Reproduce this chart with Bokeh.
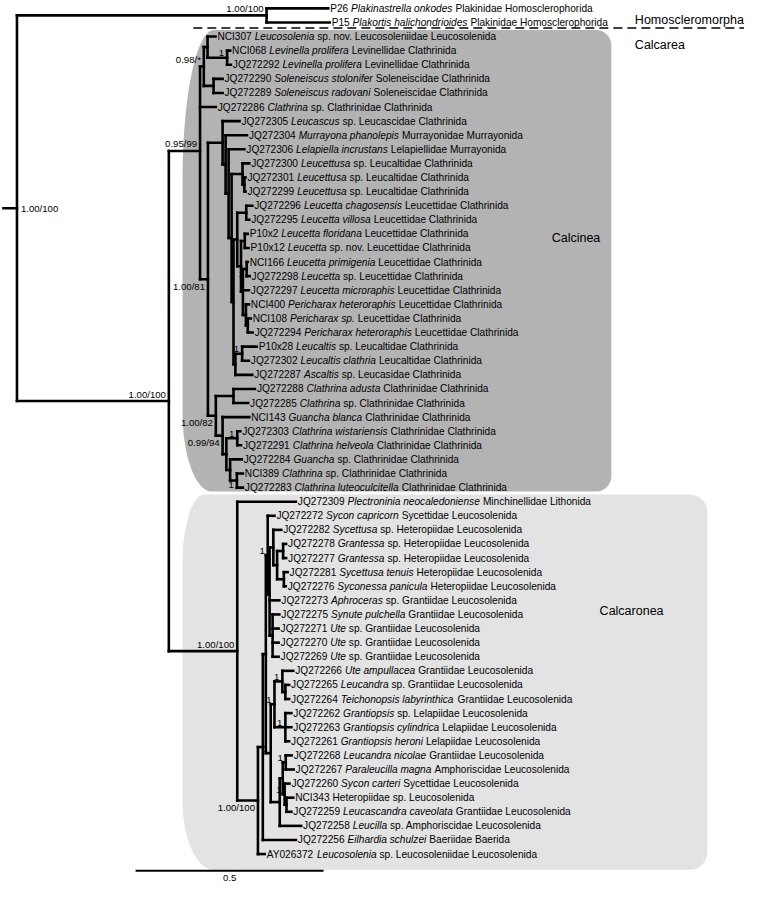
import math
from bokeh.plotting import figure
from bokeh.models import Range1d
from bokeh.embed import file_html
from bokeh.resources import INLINE
from bokeh.core.properties import value

# ---------------- data ----------------
NEWICK = (
    "((P26:0.164,P15:0.168)Homo:0.664,"
    "((((NCI307:0.021,(NCI068:0.008,JQ272292:0.010)G:0.052)D1:0.010,"
    "(JQ272290:0.024,JQ272289:0.024)F:0.026)D:0.010,"
    "JQ272286:0.042,"
    "((JQ272305:0.045,(JQ272304:0.057,(JQ272306:0.042,"
    "((JQ272300:0.018,(JQ272301:0.003,JQ272299:0.003)H4b:0.005)H4:0.029,"
    "(((JQ272296:0.016,JQ272295:0.008)H6a:0.024,"
    "((P10x2:0.008,P10x12:0.010)H8a:0.010,"
    "((NCI166:0.003,JQ272298:0.008)H8c:0.010,JQ272297:0.016,"
    "(NCI400:0.008,(NCI108:0.008,JQ272294:0.013)H8e:0.005)H8d:0.008)H8b:0.005)H8:0.010)H6:0.010,"
    "((P10x28:0.039,JQ272302:0.018)H7a:0.018,JQ272287:0.045)H7:0.005)H5:0.005)H3:0.008)H2:0.008)H1:0.008)H:0.039,"
    "((JQ272288:0.057,JQ272285:0.039)K1:0.047,"
    "(NCI143:0.071,((JQ272303:0.008,JQ272291:0.010)K4:0.029,"
    "(JQ272284:0.031,(NCI389:0.016,JQ272283:0.016)K6:0.018)K5:0.010)K3:0.010)K2:0.018)K:0.021)E:0.021)Cn:0.083,"
    "(JQ272309:0.156,"
    "((((JQ272272:0.018,((JQ272282:0.021,((JQ272278:0.008,JQ272277:0.008)P4a:0.016,"
    "(JQ272281:0.010,JQ272276:0.005)P4b:0.018)P4:0.010)P2:0.010,JQ272273:0.026,"
    "(JQ272275:0.018,JQ272271:0.016,JQ272270:0.016,JQ272269:0.016)P3:0.008)P1:0.005)P:0.005,"
    "(((JQ272266:0.029,(JQ272265:0.010,JQ272264:0.010)Q1c:0.008)Q1a:0.021,"
    "(JQ272262:0.016,JQ272263:0.016,JQ272261:0.010)Q1b:0.029)Q1:0.010,"
    "(((JQ272268:0.016,JQ272267:0.021)A:0.008,"
    "(JQ272260:0.013,(NCI343:0.018,JQ272259:0.013)B2:0.005)B:0.005)Q2:0.008,"
    "JQ272258:0.057)Q2p:0.024)Q:0.013)N:0.008,JQ272256:0.088)M:0.013,"
    "AY026372:0.018)L:0.055)Cr:0.182)Calcarea:0.404)R1:0.036;"
)

LEAF_ID = ["P26", "P15", "NCI307", "NCI068", "JQ272292", "JQ272290", "JQ272289", "JQ272286",
           "JQ272305", "JQ272304", "JQ272306", "JQ272300", "JQ272301", "JQ272299", "JQ272296",
           "JQ272295", "P10x2", "P10x12", "NCI166", "JQ272298", "JQ272297", "NCI400", "NCI108",
           "JQ272294", "P10x28", "JQ272302", "JQ272287", "JQ272288", "JQ272285", "NCI143",
           "JQ272303", "JQ272291", "JQ272284", "NCI389", "JQ272283", "JQ272309", "JQ272272",
           "JQ272282", "JQ272278", "JQ272277", "JQ272281", "JQ272276", "JQ272273", "JQ272275",
           "JQ272271", "JQ272270", "JQ272269", "JQ272266", "JQ272265", "JQ272264", "JQ272262",
           "JQ272263", "JQ272261", "JQ272268", "JQ272267", "JQ272260", "NCI343", "JQ272259",
           "JQ272258", "JQ272256", "AY026372"]
LEAF_TAXON = ["Plakinastrella onkodes", "Plakortis halichondrioides", "Leucosolenia",
              "Levinella prolifera", "Levinella prolifera", "Soleneiscus stolonifer",
              "Soleneiscus radovani", "Clathrina", "Leucascus", "Murrayona phanolepis",
              "Lelapiella incrustans", "Leucettusa", "Leucettusa", "Leucettusa",
              "Leucetta chagosensis", "Leucetta villosa", "Leucetta floridana", "Leucetta",
              "Leucetta primigenia", "Leucetta", "Leucetta microraphis", "Pericharax heteroraphis",
              "Pericharax sp.", "Pericharax heteroraphis", "Leucaltis", "Leucaltis clathria",
              "Ascaltis", "Clathrina adusta", "Clathrina", "Guancha blanca",
              "Clathrina wistariensis", "Clathrina helveola", "Guancha", "Clathrina",
              "Clathrina luteoculcitella", "Plectroninia neocaledoniense", "Sycon capricorn",
              "Sycettusa", "Grantessa", "Grantessa", "Sycettusa tenuis", "Syconessa panicula",
              "Aphroceras", "Synute pulchella", "Ute", "Ute", "Ute", "Ute ampullacea",
              "Leucandra", "Teichonopsis labyrinthica", "Grantiopsis", "Grantiopsis cylindrica",
              "Grantiopsis heroni", "Leucandra nicolae", "Paraleucilla magna", "Sycon carteri",
              "", "Leucascandra caveolata", "Leucilla", "Eilhardia schulzei", "Leucosolenia"]
LEAF_REST = ["Plakinidae Homosclerophorida", "Plakinidae Homosclerophorida",
             "sp. nov. Leucosoleniidae Leucosolenida", "Levinellidae Clathrinida",
             "Levinellidae Clathrinida", "Soleneiscidae Clathrinida", "Soleneiscidae Clathrinida",
             "sp. Clathrinidae Clathrinida", "sp. Leucascidae Clathrinida",
             "Murrayonidae Murrayonida", "Lelapiellidae Murrayonida",
             "sp. Leucaltidae Clathrinida", "sp. Leucaltidae Clathrinida",
             "sp. Leucaltidae Clathrinida", "Leucettidae Clathrinida", "Leucettidae Clathrinida",
             "Leucettidae Clathrinida", "sp. nov. Leucettidae Clathrinida",
             "Leucettidae Clathrinida", "sp. Leucettidae Clathrinida", "Leucettidae Clathrinida",
             "Leucettidae Clathrinida", "Leucettidae Clathrinida", "Leucettidae Clathrinida",
             "sp. Leucaltidae Clathrinida", "Leucaltidae Clathrinida",
             "sp. Leucasidae Clathrinida", "Clathrinidae Clathrinida",
             "sp. Clathrinidae Clathrinida", "Clathrinidae Clathrinida",
             "Clathrinidae Clathrinida", "Clathrinidae Clathrinida",
             "sp. Clathrinidae Clathrinida", "sp. Clathrinidae Clathrinida",
             "Clathrinidae Clathrinida", "Minchinellidae Lithonida", "Sycettidae Leucosolenida",
             "sp. Heteropiidae Leucosolenida", "sp. Heteropiidae Leucosolenida",
             "sp. Heteropiidae Leucosolenida", "Heteropiidae Leucosolenida",
             "Heteropiidae Leucosolenida", "sp. Grantiidae Leucosolenida",
             "Grantiidae Leucosolenida", "sp. Grantiidae Leucosolenida",
             "sp. Grantiidae Leucosolenida", "sp. Grantiidae Leucosolenida",
             "Grantiidae Leucosolenida", "sp. Grantiidae Leucosolenida",
             "Grantiidae Leucosolenida", "sp. Lelapiidae Leucosolenida",
             "Lelapiidae Leucosolenida", "Lelapiidae Leucosolenida", "Grantiidae Leucosolenida",
             "Amphoriscidae Leucosolenida", "Sycettidae Leucosolenida",
             "Heteropiidae sp. Leucosolenida", "Grantiidae Leucosolenida",
             "sp. Amphoriscidae Leucosolenida", "Baeriidae Baerida",
             "sp. Leucosoleniidae Leucosolenida"]

SUPPORT_NODE = ["R1", "Homo", "Calcarea", "Cn", "D", "G", "E", "H8c", "H7a", "K", "K2", "K4",
                "K6", "Cr", "L", "P", "Q1a", "Q1", "Q1b", "Q", "A", "B"]
SUPPORT_TEXT = ["1.00/100", "1.00/100", "1.00/100", "0.95/99", "0.98/*", "1", "1.00/81", "1",
                "1", "1.00/82", "0.99/94", "1", "1", "1.00/100", "1.00/100", "1", "1", "1", "1",
                "1", "1", "1"]
SUPPORT_SIDE = ["right", "above", "above", "above", "above", "above", "below", "below", "above",
                "below", "below", "above", "below", "above", "below", "above", "above", "above",
                "above", "above", "above", "above"]

CLADE_NAME = ["Homoscleromorpha", "Calcarea", "Calcinea", "Calcaronea"]
SCALE_BAR_LEN = 0.5

# ---------------- geometry helpers ----------------
REF_W, REF_H = 760, 901
PX0, PPU = 3.0, 384.0        # reference pixel of depth 0, pixels per substitution unit
ROW0, ROW = 8.0, 14.35       # reference pixel of first leaf row, row spacing
FIG_W, FIG_H = 744, 885
K = REF_W / FIG_W            # reference px per screen px


def dxp(px):
    return (px - PX0) / PPU


def dyp(py):
    return (py - ROW0) / ROW


def parse_newick(s):
    pos = 0

    def node():
        nonlocal pos
        n = {"children": [], "name": "", "len": 0.0}
        if s[pos] == "(":
            pos += 1
            while True:
                n["children"].append(node())
                if s[pos] == ",":
                    pos += 1
                    continue
                if s[pos] == ")":
                    pos += 1
                    break
        st = pos
        while pos < len(s) and s[pos] not in ",():;":
            pos += 1
        n["name"] = s[st:pos]
        if pos < len(s) and s[pos] == ":":
            pos += 1
            st = pos
            while pos < len(s) and s[pos] not in ",();":
                pos += 1
            n["len"] = float(s[st:pos])
        return n
    return node()


tree = parse_newick(NEWICK)
leaves = []
nodes = {}


def layout(n, depth):
    n["x"] = depth + n["len"]
    nodes[n["name"]] = n
    if not n["children"]:
        n["y"] = float(len(leaves))
        leaves.append(n)
    else:
        for c in n["children"]:
            layout(c, n["x"])
        n["y"] = sum(c["y"] for c in n["children"]) / len(n["children"])


layout(tree, 0.0)

x0s, y0s, x1s, y1s = [0.0], [tree["y"]], [tree["x"]], [tree["y"]]


def collect(n):
    if n["children"]:
        x0s.append(n["x"]); y0s.append(n["children"][0]["y"])
        x1s.append(n["x"]); y1s.append(n["children"][-1]["y"])
        for c in n["children"]:
            x0s.append(n["x"]); y0s.append(c["y"]); x1s.append(c["x"]); y1s.append(c["y"])
            collect(c)


collect(tree)

# ---------------- text widths (Arial / Liberation Sans metrics) ----------------
AW = {' ': 278, '.': 278, '/': 278, '*': 389, '0': 556, '1': 556, '2': 556, '3': 556, '4': 556,
      '5': 556, '6': 556, '7': 556, '8': 556, '9': 556, 'A': 667, 'B': 667, 'C': 722, 'D': 722,
      'E': 667, 'F': 611, 'G': 778, 'H': 722, 'I': 278, 'J': 500, 'K': 667, 'L': 556, 'M': 833,
      'N': 722, 'O': 778, 'P': 667, 'Q': 778, 'R': 722, 'S': 667, 'T': 611, 'U': 722, 'V': 667,
      'W': 944, 'X': 667, 'Y': 667, 'Z': 611, 'a': 556, 'b': 556, 'c': 500, 'd': 556, 'e': 556,
      'f': 278, 'g': 556, 'h': 556, 'i': 222, 'j': 222, 'k': 500, 'l': 222, 'm': 833, 'n': 556,
      'o': 556, 'p': 556, 'q': 556, 'r': 333, 's': 500, 't': 278, 'u': 556, 'v': 500, 'w': 722,
      'x': 500, 'y': 500, 'z': 500}


def tw(s, fs):
    return sum(AW.get(c, 556) for c in s) * fs / 1000.0


FONT = value("Liberation Sans")
FS_LEAF = 10.15
FS_SUP = 9.6
FS_CLADE = 12.5

p = figure(width=FIG_W, height=FIG_H, x_range=Range1d(dxp(0), dxp(REF_W)),
           y_range=Range1d(dyp(REF_H), dyp(0)), output_backend="svg",
           toolbar_location=None, min_border=0, x_axis_type=None, y_axis_type=None)
p.grid.visible = False
p.outline_line_color = None
p.background_fill_color = "white"
p.border_fill_color = "white"


# ---------------- clade highlight shapes ----------------
def shape(x0, x1, y0, y1, tl, bl, r, n=24):
    pts = [(x0 + tl[0], y0), (x1 - r, y0)]
    for k in range(1, n + 1):
        a = -math.pi / 2 + k * (math.pi / 2) / n
        pts.append((x1 - r + r * math.cos(a), y0 + r + r * math.sin(a)))
    pts.append((x1, y1 - r))
    for k in range(1, n + 1):
        a = k * (math.pi / 2) / n
        pts.append((x1 - r + r * math.cos(a), y1 - r + r * math.sin(a)))
    pts.append((x0 + bl[0], y1))
    for k in range(1, n + 1):
        a = math.pi / 2 + k * (math.pi / 2) / n
        pts.append((x0 + bl[0] + bl[0] * math.cos(a), y1 - bl[1] + bl[1] * math.sin(a)))
    pts.append((x0, y0 + tl[1]))
    for k in range(1, n + 1):
        a = math.pi + k * (math.pi / 2) / n
        pts.append((x0 + tl[0] + tl[0] * math.cos(a), y0 + tl[1] + tl[1] * math.sin(a)))
    return [dxp(a) for a, b in pts], [dyp(b) for a, b in pts]


cx, cy = shape(186, 624, 30, 500, (32, 150), (30, 80), 16)
p.patch(cx, cy, fill_color="#b3b3b3", line_color=None)
rx, ry = shape(186, 722, 503, 885, (22, 70), (32, 70), 18)
p.patch(rx, ry, fill_color="#e3e3e3", line_color=None)

# dashed separator
p.line([dxp(197), dxp(REF_W)], [dyp(28), dyp(28)], line_color="black", line_width=1.6,
       line_dash="9 5")

# ---------------- tree branches ----------------
p.segment(x0=x0s, y0=y0s, x1=x1s, y1=y1s, line_color="black", line_width=2.6,
          line_cap="square")

# ---------------- leaf labels ----------------
info = {i: (t, r) for i, t, r in zip(LEAF_ID, LEAF_TAXON, LEAF_REST)}
gap = 2.0 / PPU
cvt = K / PPU
nx, ny, nt, ix, iy, it = [], [], [], [], [], []
for lf in leaves:
    tax, rest = info[lf["name"]]
    x = lf["x"] + gap
    nx.append(x); ny.append(lf["y"]); nt.append(lf["name"])
    x += tw(lf["name"] + " ", FS_LEAF) * cvt
    if tax:
        ix.append(x); iy.append(lf["y"]); it.append(tax)
        x += tw(tax + " ", FS_LEAF) * cvt
    nx.append(x); ny.append(lf["y"]); nt.append(rest)

p.text(x=nx, y=ny, text=nt, text_font=FONT, text_font_size=f"{FS_LEAF}px",
       text_baseline="middle", text_align="left", text_color="black")
p.text(x=ix, y=iy, text=it, text_font=FONT, text_font_size=f"{FS_LEAF}px",
       text_font_style="italic", text_baseline="middle", text_align="left", text_color="black")

# ---------------- support values ----------------
for side in ("above", "below", "right"):
    xs, ys, ts = [], [], []
    for nm, t, sd in zip(SUPPORT_NODE, SUPPORT_TEXT, SUPPORT_SIDE):
        if sd != side:
            continue
        n = nodes[nm]
        if side == "right":
            xs.append(n["x"] + 4 / PPU); ys.append(n["y"])
        elif side == "above":
            xs.append(n["x"] - 3 / PPU); ys.append(n["y"] - 1.5 / ROW)
        else:
            xs.append(n["x"] - 3 / PPU); ys.append(n["y"] + 1.5 / ROW)
        ts.append(t)
    p.text(x=xs, y=ys, text=ts, text_font=FONT, text_font_size=f"{FS_SUP}px",
           text_align="left" if side == "right" else "right",
           text_baseline={"above": "bottom", "below": "top", "right": "middle"}[side],
           text_color="black")

# ---------------- clade names ----------------
p.text(x=[dxp(648), dxp(648), dxp(563), dxp(612)], y=[dyp(20), dyp(45), dyp(242), dyp(622)],
       text=CLADE_NAME, text_font=FONT, text_font_size=f"{FS_CLADE}px",
       text_align="left", text_baseline="middle")

# ---------------- scale bar ----------------
sb_x0 = dxp(138)
p.segment(x0=[sb_x0], y0=[dyp(886)], x1=[sb_x0 + SCALE_BAR_LEN], y1=[dyp(886)],
          line_color="black", line_width=2.2)
p.text(x=[sb_x0 + SCALE_BAR_LEN / 2], y=[dyp(893)], text=[str(SCALE_BAR_LEN)], text_font=FONT,
       text_font_size="9.5px", text_align="center", text_baseline="middle")

open("out.html", "w").write(file_html(p, INLINE))
